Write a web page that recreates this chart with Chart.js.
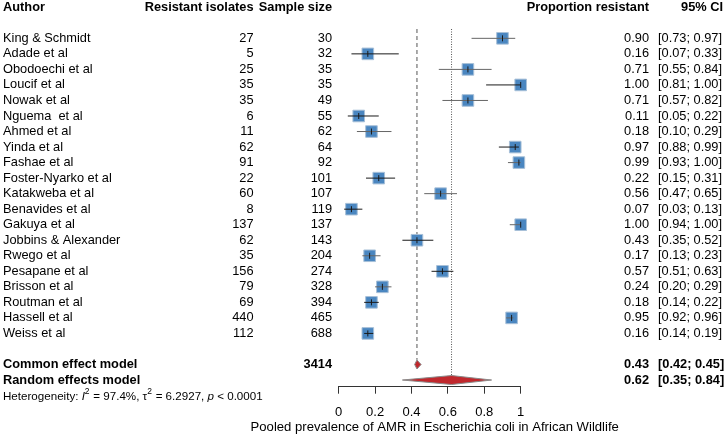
<!DOCTYPE html>
<html><head><meta charset="utf-8">
<script src="https://cdn.jsdelivr.net/npm/chart.js@4/dist/chart.umd.min.js"></script>
<style>html,body{margin:0;padding:0;background:#fff}</style>
</head><body>
<canvas id="c" width="725" height="435"></canvas>
<script>
const authors = ['King & Schmidt','Adade et al','Obodoechi et al','Loucif et al','Nowak et al','Nguema  et al','Ahmed et al','Yinda et al','Fashae et al','Foster-Nyarko et al','Katakweba et al','Benavides et al','Gakuya et al','Jobbins & Alexander','Rwego et al','Pesapane et al','Brisson et al','Routman et al','Hassell et al','Weiss et al'];
const resistant = [27,5,25,35,35,6,11,62,91,22,60,8,137,62,35,156,79,69,440,112];
const sampleSize = [30,32,35,35,49,55,62,64,92,101,107,119,137,143,204,274,328,394,465,688];
const proportion = [0.90,0.16,0.71,1.00,0.71,0.11,0.18,0.97,0.99,0.22,0.56,0.07,1.00,0.43,0.17,0.57,0.24,0.18,0.95,0.16];
const ciLower = [0.73,0.07,0.55,0.81,0.57,0.05,0.10,0.88,0.93,0.15,0.47,0.03,0.94,0.35,0.13,0.51,0.20,0.14,0.92,0.14];
const ciUpper = [0.97,0.33,0.84,1.00,0.82,0.22,0.29,0.99,1.00,0.31,0.65,0.13,1.00,0.52,0.23,0.63,0.29,0.22,0.96,0.19];
const headers = ['Author','Resistant isolates','Sample size','Proportion resistant','95% CI'];
const commonModel = {label:'Common effect model', total:3414, est:0.43, lo:0.42, hi:0.45};
const randomModel = {label:'Random effects model', est:0.62, lo:0.35, hi:0.84};
const heterogeneity = {I2:'97.4%', tau2:'6.2927', p:'0.0001'};
const xTicks = [0,0.2,0.4,0.6,0.8,1];
const xTitle = 'Pooled prevalence of AMR in Escherichia coli in African Wildlife';

const FONT = '"Liberation Sans", Arial, sans-serif';
const FS = 12.8;
const ROW_COMMON = authors.length + 1;
const ROW_RANDOM = authors.length + 2;
const ROW_HET = authors.length + 3.1;
const ROW_HEAD = -2;

function fmt(v){ return v.toFixed(2); }

const forestPlugin = {
  id: 'forest',
  beforeDatasetsDraw(chart){
    const ctx = chart.ctx, xs = chart.scales.x, ys = chart.scales.y;
    ctx.save();
    ctx.strokeStyle = '#555'; ctx.lineWidth = 1;
    let x = xs.getPixelForValue(commonModel.est);
    ctx.setLineDash([4,3]);
    ctx.beginPath(); ctx.moveTo(x, ys.getPixelForValue(-0.6)); ctx.lineTo(x, ys.getPixelForValue(ROW_COMMON-0.3)); ctx.stroke();
    x = xs.getPixelForValue(randomModel.est);
    ctx.setLineDash([1,1.5]);
    ctx.beginPath(); ctx.moveTo(x, ys.getPixelForValue(-0.6)); ctx.lineTo(x, ys.getPixelForValue(ROW_RANDOM-0.3)); ctx.stroke();
    ctx.restore();
  },
  afterDatasetsDraw(chart){
    const ctx = chart.ctx, xs = chart.scales.x, ys = chart.scales.y;
    ctx.save();
    ctx.lineWidth = 1; ctx.setLineDash([]);
    for (let i=0;i<authors.length;i++){
      const y = ys.getPixelForValue(i);
      ctx.strokeStyle = (i % 2 === 0) ? '#666' : '#1a1a1a';
      ctx.beginPath();
      ctx.moveTo(xs.getPixelForValue(ciLower[i]), y);
      ctx.lineTo(xs.getPixelForValue(ciUpper[i]), y);
      ctx.stroke();
      ctx.strokeStyle = '#1a1a1a';
      const xe = xs.getPixelForValue(proportion[i]);
      ctx.beginPath(); ctx.moveTo(xe, y-3); ctx.lineTo(xe, y+3); ctx.stroke();
    }
    const diamond = (m,row,h,pad) => {
      const y = ys.getPixelForValue(row);
      const xl = xs.getPixelForValue(m.lo) - pad, xr = xs.getPixelForValue(m.hi) + pad, xm = xs.getPixelForValue(m.est);
      ctx.beginPath();
      ctx.moveTo(xl, y); ctx.lineTo(xm, y-h); ctx.lineTo(xr, y); ctx.lineTo(xm, y+h);
      ctx.closePath();
      ctx.fillStyle = '#c0282d'; ctx.fill();
      ctx.strokeStyle = '#8a8a8a'; ctx.stroke();
    };
    diamond(commonModel, ROW_COMMON, 4.5, 0.5);
    diamond(randomModel, ROW_RANDOM, 4.5, 0);
    ctx.restore();
  },
  afterDraw(chart){
    const ctx = chart.ctx, xs = chart.scales.x, ys = chart.scales.y;
    ctx.save();
    ctx.fillStyle = '#000';
    ctx.textBaseline = 'middle';
    const colAuthor = 3, colRes = 253.5, colN = 332, colProp = 649, colCI = 658, colCIR = 723;
    const txt = (s,x,y,align,bold,size) => {
      ctx.font = (bold?'bold ':'') + (size||FS) + 'px ' + FONT;
      ctx.textAlign = align; ctx.fillText(s,x,y);
    };
    let yh = ys.getPixelForValue(ROW_HEAD);
    txt(headers[0], colAuthor, yh, 'left', true);
    txt(headers[1], colRes, yh, 'right', true);
    txt(headers[2], colN, yh, 'right', true);
    txt(headers[3], colProp, yh, 'right', true);
    txt(headers[4], colCIR, yh, 'right', true);
    for (let i=0;i<authors.length;i++){
      const y = ys.getPixelForValue(i);
      txt(authors[i], colAuthor, y, 'left', false);
      txt(String(resistant[i]), colRes, y, 'right', false);
      txt(String(sampleSize[i]), colN, y, 'right', false);
      txt(fmt(proportion[i]), colProp, y, 'right', false);
      txt('[' + fmt(ciLower[i]) + '; ' + fmt(ciUpper[i]) + ']', colCI, y, 'left', false);
    }
    let y = ys.getPixelForValue(ROW_COMMON);
    txt(commonModel.label, colAuthor, y, 'left', true);
    txt(String(commonModel.total), colN, y, 'right', true);
    txt(fmt(commonModel.est), colProp, y, 'right', true);
    txt('[' + fmt(commonModel.lo) + '; ' + fmt(commonModel.hi) + ']', colCI, y, 'left', true);
    y = ys.getPixelForValue(ROW_RANDOM);
    txt(randomModel.label, colAuthor, y, 'left', true);
    txt(fmt(randomModel.est), colProp, y, 'right', true);
    txt('[' + fmt(randomModel.lo) + '; ' + fmt(randomModel.hi) + ']', colCI, y, 'left', true);
    y = ys.getPixelForValue(ROW_HET);
    const hs = 11.6;
    const parts = [
      ['Heterogeneity: ', '', 0], ['I', 'italic ', 0], ['2', '', 1],
      [' = ' + heterogeneity.I2 + ', ', '', 0], ['\u03c4', '', 0], ['2', '', 1],
      [' = ' + heterogeneity.tau2 + ', ', '', 0], ['p', 'italic ', 0], [' < ' + heterogeneity.p, '', 0]
    ];
    let x = colAuthor;
    ctx.textAlign = 'left';
    for (const [s, st, sup] of parts){
      const size = sup ? 8.5 : hs;
      ctx.font = st + size + 'px ' + FONT;
      ctx.fillText(s, x, sup ? y-5 : y);
      x += ctx.measureText(s).width + (sup ? 0.5 : 0);
    }
    ctx.font = '13.1px ' + FONT;
    ctx.textAlign = 'center';
    ctx.fillText(xTitle, (xs.left + xs.right)/2 + 5, 427.5);
    ctx.restore();
  }
};

new Chart(document.getElementById('c'), {
  type: 'scatter',
  data: {
    datasets: [{
      data: proportion.map((p,i)=>({x:p, y:i})),
      pointStyle: 'rect',
      pointRadius: 8.2,
      pointHoverRadius: 8.2,
      backgroundColor: '#4a86c0',
      borderColor: '#a8c0d8',
      borderWidth: 1,
      clip: false
    }]
  },
  options: {
    responsive: false,
    animation: false,
    events: [],
    layout: { padding: { left: 338.7, right: 204.3, top: 22.8, bottom: 0 } },
    plugins: { legend: {display:false}, tooltip: {enabled:false} },
    scales: {
      x: {
        type: 'linear', min: 0, max: 1,
        afterBuildTicks: s => { s.ticks = xTicks.map(v=>({value:v})); },
        afterFit: s => { s.height = 48.3; },
        grid: { display: true, drawOnChartArea: false, drawTicks: true, tickLength: 7, color: '#333', lineWidth: 1 },
        border: { display: true, color: '#333', width: 1 },
        ticks: { color: '#000', font: { family: FONT, size: 13 }, padding: 11, maxRotation: 0, autoSkip: false,
                 callback: v => String(v) }
      },
      y: {
        type: 'linear', min: -1, max: 22.43, reverse: true, display: false
      }
    }
  },
  plugins: [forestPlugin]
});
</script>
</body></html>
